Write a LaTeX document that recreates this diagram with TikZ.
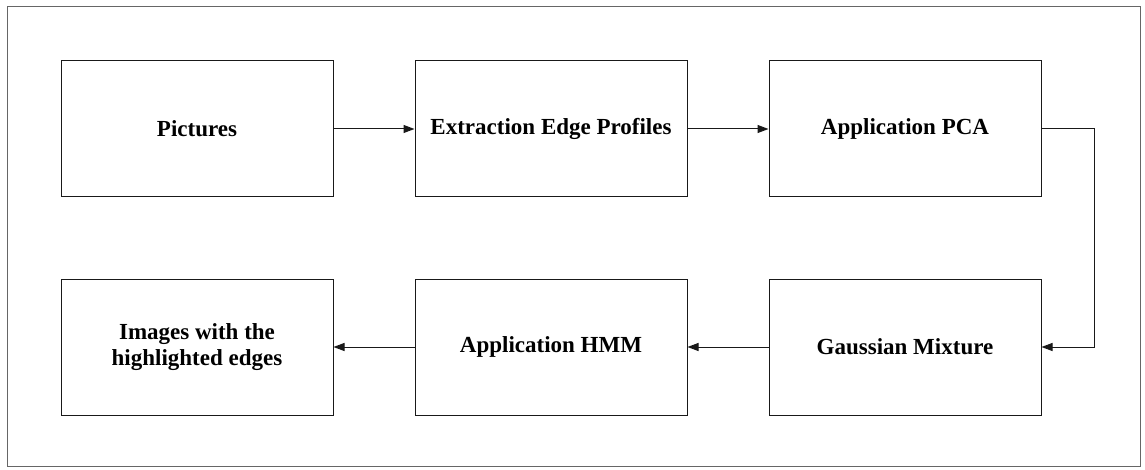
\documentclass[tikz,border=0pt]{standalone}
\usepackage{fontspec}
\setmainfont{Liberation Serif}
\usetikzlibrary{arrows.meta}
\begin{document}
\begin{tikzpicture}[x=1pt,y=-1pt,
  blk/.style={draw=black!90, line width=1pt, minimum width=272pt, minimum height=136pt,
    inner sep=0pt, font=\fontsize{23}{26}\selectfont\bfseries, align=center},
  conn/.style={draw=black!90, line width=1pt, -{Triangle[length=11pt,width=8pt]}}]
\useasboundingbox (0,0) rectangle (1145,470);
\draw[draw=black!60, line width=1pt] (7,7) rectangle (1140,466);
\node[blk] (pic) at (197,129) {Pictures};
\node[blk] (ext) at (551,129) {Extraction Edge Profiles};
\node[blk] (pca) at (905,129) {Application PCA};
\node[blk] (gau) at (905,347) {Gaussian Mixture};
\node[blk] (hmm) at (551,347) {Application HMM};
\node[blk] (img) at (197,347) {Images with the\\highlighted edges};
\coordinate (turn1) at (1094,129);
\coordinate (turn2) at (1094,347);
\draw[conn] (pic) -- (ext);
\draw[conn] (ext) -- (pca);
\draw[conn] (pca.east) -- (turn1) -- (turn2) -- (gau.east);
\draw[conn] (gau) -- (hmm);
\draw[conn] (hmm) -- (img);
\end{tikzpicture}
\end{document}
